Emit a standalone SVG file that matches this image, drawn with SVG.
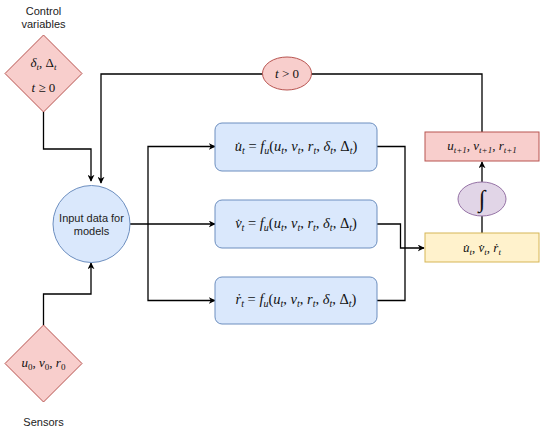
<svg xmlns="http://www.w3.org/2000/svg" width="550" height="433" viewBox="0 0 550 433">
<defs>
<marker id="ah" viewBox="0 0 10 10" refX="9" refY="5" markerWidth="7" markerHeight="7" markerUnits="userSpaceOnUse" orient="auto">
<path d="M0,0 L10,5 L0,10 L3,5 Z" fill="#000"/>
</marker>
<style>
.lbl{font-family:"Liberation Sans",Arial,sans-serif;font-size:11px;fill:#222;text-anchor:middle}
.m{font-family:"Liberation Serif","Times New Roman",serif;font-style:italic;font-size:13px;fill:#111;text-anchor:middle}
.f{font-size:14.5px}
.u{font-style:normal}
.s{font-size:9px;baseline-shift:-3px}
.f .s{font-size:10px}
.red{fill:#f8cecc;stroke:#b85450;stroke-width:1}
.blue{fill:#dae8fc;stroke:#6c8ebf;stroke-width:1}
.yel{fill:#fff2cc;stroke:#d6b656;stroke-width:1}
.pur{fill:#e1d5e7;stroke:#9673a6;stroke-width:1}
.c{fill:none;stroke:#000;stroke-width:1.3}
</style>
</defs>
<rect width="550" height="433" fill="#fff"/>

<g id="connectors">
<path class="c" d="M43.5,112 V149 H91 V181" marker-end="url(#ah)"/>
<path class="c" d="M482,132 V74 H101 V183" marker-end="url(#ah)"/>
<path class="c" d="M43.5,325 V294 H91 V263" marker-end="url(#ah)"/>
<path class="c" d="M130,224 H215" marker-end="url(#ah)"/>
<path class="c" d="M148,224 V146.5 H215" marker-end="url(#ah)"/>
<path class="c" d="M148,224 V300.5 H215" marker-end="url(#ah)"/>
<path class="c" d="M377,146.5 H405 V300.5 H377"/>
<path class="c" d="M377,224 H400.5 V248 H424" marker-end="url(#ah)"/>
<path class="c" d="M482,233 V162" marker-end="url(#ah)"/>
</g>

<g id="control">
<text class="lbl" x="43.5" y="15">Control</text>
<text class="lbl" x="43.5" y="28">variables</text>
<polygon class="red" points="43.5,35 82,73.5 43.5,112 5,73.5"/>
<text class="m" x="43.5" y="67"><tspan>δ</tspan><tspan class="s">t</tspan><tspan class="u">, Δ</tspan><tspan class="s">t</tspan></text>
<text class="m" x="43.5" y="92">t <tspan class="u">≥ 0</tspan></text>
</g>

<g id="sensors">
<polygon class="red" points="43.5,325 82,363.5 43.5,402 5,363.5"/>
<text class="m" x="43.5" y="367">u<tspan class="s u">0</tspan><tspan class="u">, </tspan>v<tspan class="s u">0</tspan><tspan class="u">, </tspan>r<tspan class="s u">0</tspan></text>
<text class="lbl" x="43.5" y="426">Sensors</text>
</g>

<g id="cond">
<ellipse class="red" cx="287" cy="73.5" rx="24.5" ry="16.5"/>
<text class="m" x="287" y="78">t <tspan class="u">&gt; 0</tspan></text>
</g>

<g id="input">
<circle class="blue" cx="91.5" cy="224" r="38.5"/>
<text class="lbl" x="91.5" y="222">Input data for</text>
<text class="lbl" x="91.5" y="235">models</text>
</g>

<g id="fu">
<rect class="blue" x="215" y="123" width="162" height="48" rx="7"/>
<text class="m f" x="296" y="151">u̇<tspan class="s">t</tspan><tspan class="u"> = </tspan>f<tspan class="s">u</tspan><tspan class="u">(</tspan>u<tspan class="s">t</tspan><tspan class="u">, </tspan>v<tspan class="s">t</tspan><tspan class="u">, </tspan>r<tspan class="s">t</tspan><tspan class="u">, </tspan>δ<tspan class="s">t</tspan><tspan class="u">, Δ</tspan><tspan class="s">t</tspan><tspan class="u">)</tspan></text>
</g>

<g id="fv">
<rect class="blue" x="215" y="200" width="162" height="48" rx="7"/>
<text class="m f" x="296" y="228">v̇<tspan class="s">t</tspan><tspan class="u"> = </tspan>f<tspan class="s">u</tspan><tspan class="u">(</tspan>u<tspan class="s">t</tspan><tspan class="u">, </tspan>v<tspan class="s">t</tspan><tspan class="u">, </tspan>r<tspan class="s">t</tspan><tspan class="u">, </tspan>δ<tspan class="s">t</tspan><tspan class="u">, Δ</tspan><tspan class="s">t</tspan><tspan class="u">)</tspan></text>
</g>

<g id="fr">
<rect class="blue" x="215" y="277" width="162" height="47" rx="7"/>
<text class="m f" x="296" y="304">ṙ<tspan class="s">t</tspan><tspan class="u"> = </tspan>f<tspan class="s">u</tspan><tspan class="u">(</tspan>u<tspan class="s">t</tspan><tspan class="u">, </tspan>v<tspan class="s">t</tspan><tspan class="u">, </tspan>r<tspan class="s">t</tspan><tspan class="u">, </tspan>δ<tspan class="s">t</tspan><tspan class="u">, Δ</tspan><tspan class="s">t</tspan><tspan class="u">)</tspan></text>
</g>

<g id="next">
<rect class="red" x="425" y="132" width="114" height="29"/>
<text class="m" x="482" y="150">u<tspan class="s">t+1</tspan><tspan class="u">, </tspan>v<tspan class="s">t+1</tspan><tspan class="u">, </tspan>r<tspan class="s">t+1</tspan></text>
</g>

<g id="integral">
<ellipse class="pur" cx="482" cy="199" rx="24" ry="17"/>
<text class="m" x="482" y="207" style="font-size:24px">∫</text>
</g>

<g id="derivs">
<rect class="yel" x="425" y="233" width="114" height="29"/>
<text class="m" x="482" y="252">u̇<tspan class="s">t</tspan><tspan class="u">, </tspan>v̇<tspan class="s">t</tspan><tspan class="u">, </tspan>ṙ<tspan class="s">t</tspan></text>
</g>
</svg>
